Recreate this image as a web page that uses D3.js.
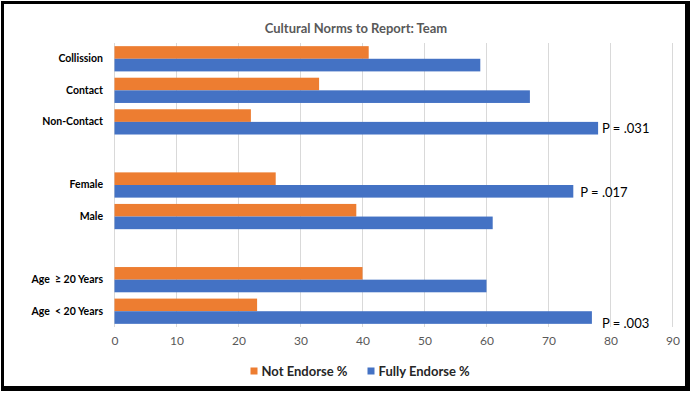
<!DOCTYPE html>
<html><head><meta charset="utf-8">
<script src="https://cdn.jsdelivr.net/npm/d3@7"></script>
<style>html,body{margin:0;padding:0;background:#fff;}svg{display:block;}text{white-space:pre;}</style>
</head><body>
<svg id="chart" width="690" height="393"></svg>
<script>
const title = "Cultural Norms to Report: Team";
const categories = ["Collission","Contact","Non-Contact","gap1","Female","Male","gap2","Age  ≥ 20 Years","Age  < 20 Years"];
const notEndorse = [41, 33, 22, null, 26, 39, null, 40, 23];
const fullyEndorse = [59, 67, 78, null, 74, 61, null, 60, 77];
const pLabels = ["", "", "P = .031", "", "P = .017", "", "", "", "P = .003"];
const seriesNames = ["Not Endorse %", "Fully Endorse %"];
const seriesColors = ["#ED7D31", "#4472C4"];
const xTicks = [0,10,20,30,40,50,60,70,80,90];

// hand-placed annotation offsets (layout only)
const pOffsetX = {"P = .031": 4, "P = .017": 7, "P = .003": 10};
const pOffsetY = {"P = .031": 0, "P = .017": 1, "P = .003": 6};

const svg = d3.select("#chart");
const font = "Lato, 'Open Sans', sans-serif";

// frame
svg.append("rect").attr("x",1).attr("y",1).attr("width",689).attr("height",390).attr("fill","#000");
svg.append("rect").attr("x",4).attr("y",4).attr("width",681).attr("height",382).attr("fill","#fff");

const x = d3.scaleLinear().domain([0,90]).range([114.5,672.5]);
const y = d3.scaleBand().domain(categories).range([43,327]).paddingInner(0.2).paddingOuter(0.1);
const ySub = d3.scaleBand().domain(seriesNames).range([0,y.bandwidth()]).padding(0);

// gridlines
svg.append("g").selectAll("line").data(xTicks).join("line")
  .attr("x1",d=>x(d)).attr("x2",d=>x(d)).attr("y1",43).attr("y2",327)
  .attr("stroke","#D9D9D9").attr("stroke-width",1);

// x axis labels
const xAxis = d3.axisBottom(x).tickValues(xTicks).tickSize(0).tickPadding(0);
const gx = svg.append("g").attr("transform","translate(0,341)").call(xAxis);
gx.select(".domain").remove();
gx.selectAll("text").attr("font-family",font).attr("font-size",12).attr("fill","#595959").attr("dy","0.35em").attr("y",0);

// y axis labels
const yAxis = d3.axisLeft(y).tickSize(0).tickPadding(0).tickFormat(d=>d.startsWith("gap")?"":d);
const gy = svg.append("g").attr("transform","translate(103,0)").call(yAxis);
gy.select(".domain").remove();
gy.selectAll("text").attr("font-family",font).attr("font-size",10.5).attr("font-weight","bold").attr("fill","#000")
  .style("white-space","pre");

// bars
const data = categories.map((c,i)=>({c, vals:[notEndorse[i], fullyEndorse[i]], p:pLabels[i]}));
const groups = svg.append("g").selectAll("g").data(data.filter(d=>d.vals[0]!==null)).join("g")
  .attr("transform",d=>`translate(0,${y(d.c)})`);
groups.selectAll("rect").data(d=>d.vals.map((v,j)=>({v, s:seriesNames[j], color:seriesColors[j]}))).join("rect")
  .attr("x",x(0)).attr("y",d=>ySub(d.s)).attr("width",d=>x(d.v)-x(0)).attr("height",ySub.bandwidth())
  .attr("fill",d=>d.color);

// p labels
groups.filter(d=>d.p).append("text")
  .attr("x",d=>x(d.vals[1])+pOffsetX[d.p]).attr("y",d=>ySub(seriesNames[1])+ySub.bandwidth()/2+pOffsetY[d.p])
  .attr("dy","0.35em").attr("font-family",font).attr("font-size",13).attr("fill","#000").text(d=>d.p);

// title
svg.append("text").attr("x",356).attr("y",33).attr("text-anchor","middle")
  .attr("font-family",font).attr("font-size",13).attr("font-weight","bold").attr("fill","#595959").text(title);

// legend
const leg = svg.append("g");
const legX = [250.5, 367.5];
seriesNames.forEach((s,i)=>{
  leg.append("rect").attr("x",legX[i]).attr("y",367.5).attr("width",7).attr("height",7).attr("fill",seriesColors[i]);
  leg.append("text").attr("x",legX[i]+11).attr("y",371).attr("dy","0.35em")
    .attr("font-family",font).attr("font-size",13).attr("font-weight","bold").attr("fill","#262626").text(s);
});
</script>
</body></html>
